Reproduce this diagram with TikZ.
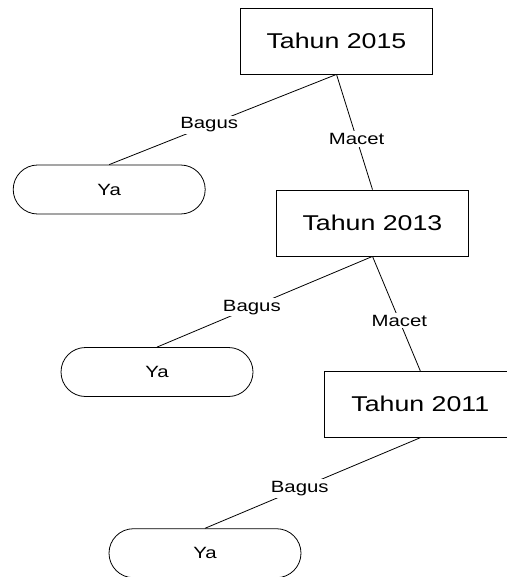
\documentclass[tikz,border=0pt]{standalone}
\usepackage{fontspec}
\setmainfont{Liberation Sans}[FakeStretch=1.25]
\usetikzlibrary{shapes.misc}

\begin{document}
\begin{tikzpicture}[x=1pt,y=-1pt,line width=0.8pt,
		tahun/.style={draw,minimum width=191.6pt,minimum height=66pt,inner sep=0pt,font=\fontsize{21.4}{24}\selectfont},
		ya/.style={draw,rounded rectangle,minimum width=192pt,minimum height=49pt,inner sep=0pt,font=\fontsize{16.3}{19}\selectfont},
		lbl/.style={fill=white,inner sep=2pt,pos=0.56,font=\fontsize{16.3}{19}\selectfont}]
			\useasboundingbox (0,0) rectangle (506,577);
			
			\node[tahun] (t15) at (336.5,41) {Tahun 2015};
			\node[tahun] (t13) at (372.5,223) {Tahun 2013};
			\node[tahun] (t11) at (420.3,404.3) {Tahun 2011};
			
			\node[ya] (ya1) at (109.2,189.5) {Ya};
			\node[ya] (ya2) at (157,372) {Ya};
			\node[ya] (ya3) at (205,553.2) {Ya};
			
			\draw (t15.south) -- node[lbl] {Bagus} (ya1.north);
			\draw (t15.south) -- node[lbl] {Macet} (t13.north);
			\draw (t13.south) -- node[lbl] {Bagus} (ya2.north);
			\draw (t13.south) -- node[lbl] {Macet} (t11.north);
			\draw (t11.south) -- node[lbl] {Bagus} (ya3.north);
		\end{tikzpicture}
\end{document}
